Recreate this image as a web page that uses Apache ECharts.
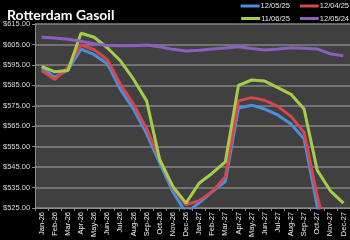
<!DOCTYPE html>
<html>
<head>
<meta charset="utf-8">
<script src="https://cdn.jsdelivr.net/npm/echarts@6/dist/echarts.min.js"></script>
<style>html,body{margin:0;padding:0;background:#000;}#c{width:350px;height:240px;}</style>
</head>
<body>
<div id="c"></div>
<script>
var categories = ['Jan-26','Feb-26','Mar-26','Apr-26','May-26','Jun-26','Jul-26','Aug-26','Sep-26','Oct-26','Nov-26','Dec-26',
                  'Jan-27','Feb-27','Mar-27','Apr-27','May-27','Jun-27','Jul-27','Aug-27','Sep-27','Oct-27','Nov-27','Dec-27'];
var s20251205 = [593.5, 589, 592.5, 602.7, 600, 595.6, 583, 573.4, 561.3, 547, 533, 522.5,
                 527.5, 533, 537.9, 573.9, 575.3, 573.4, 570.5, 566.1, 558.9, 526, 500, 495];
var s20251204 = [592.3, 587.9, 593.8, 604.8, 602.4, 597.6, 585.5, 575.8, 563.7, 549, 535, 526.6,
                 528.6, 533, 540.3, 577.4, 579, 577.7, 574.7, 569.8, 562, 531, 505, 500];
var s20251106 = [594.3, 591.6, 592.3, 610.5, 608.5, 603.4, 597, 588, 577.4, 548.5, 535.5, 527.4,
                 537.1, 542, 547.6, 585, 587.6, 587.1, 583.9, 580.6, 573.4, 543.5, 533.4, 527.4];
var s20241205 = [608.5, 608.2, 607.5, 606.6, 605.3, 604.5, 604.3, 604.4, 604.7, 603.9, 602.6, 601.8,
                 602.2, 602.8, 603.3, 603.9, 603, 602.3, 602.8, 603.4, 603.1, 602.8, 600.4, 599.4];
var seriesNames = ['12/05/25','12/04/25','11/06/25','12/05/24'];
var yMin = 525, yMax = 615, yStep = 10;

var colors = ['#4a8fdc','#d6464b','#a5cd4b','#8b5fc0'];
var allData = [s20251205, s20251204, s20251106, s20241205];
// axis is offset so ticks start exactly at yMin
function off(arr){ return arr.map(function(v){ return +(v - yMin).toFixed(3); }); }

var legendText = {color:'#e6e6e6', fontFamily:'Liberation Sans', fontSize:7.5, padding:[0,0,0,-4]};
var chart = echarts.init(document.getElementById('c'), null, {renderer:'canvas'});
chart.setOption({
  backgroundColor: '#000',
  animation: false,
  title: {
    text: 'Rotterdam Gasoil', left: 2, top: 3,
    textStyle: {color:'#fff', fontFamily:'Lato', fontWeight:'bold', fontSize:14}
  },
  legend: [
    {data:[seriesNames[0], seriesNames[1]], right: 1, top: 2, padding: 0, itemWidth: 19, itemHeight: 3, itemGap: 10,
     icon:'rect', textStyle: legendText},
    {data:[seriesNames[2], seriesNames[3]], right: 1, top: 14.5, padding: 0, itemWidth: 19, itemHeight: 3, itemGap: 10,
     icon:'rect', textStyle: legendText}
  ],
  grid: {left: 35, right: 0, top: 24, bottom: 30, show: true, backgroundColor:'#404040', borderWidth: 0},
  xAxis: {
    type: 'category', data: categories, boundaryGap: true,
    axisLine: {lineStyle:{color:'#8c8c8c', width:1}},
    axisTick: {show:true, length:3, lineStyle:{color:'#8c8c8c'}},
    axisLabel: {rotate: 90, interval: 0, color:'#f0f0f0', fontFamily:'Liberation Sans', fontSize:7.5, margin:4}
  },
  yAxis: {
    type: 'value', min: 0, max: yMax - yMin, interval: yStep,
    axisLine: {show:true, lineStyle:{color:'#8c8c8c', width:1}},
    axisTick: {show:true, length:3, lineStyle:{color:'#8c8c8c'}},
    splitLine: {show:true, lineStyle:{color:'#858585', width:1.5}},
    axisLabel: {color:'#d9d9d9', fontFamily:'Liberation Sans', fontSize:7.5, margin:5,
      formatter: function(v){ return '$' + (v + yMin).toFixed(2); }}
  },
  series: allData.map(function(d, i){
    return {
      name: seriesNames[i], type: 'line', data: off(d), showSymbol: false, symbol: 'none',
      lineStyle: {color: colors[i], width: 3}, itemStyle: {color: colors[i]}, clip: true
    };
  })
});
</script>
</body>
</html>
